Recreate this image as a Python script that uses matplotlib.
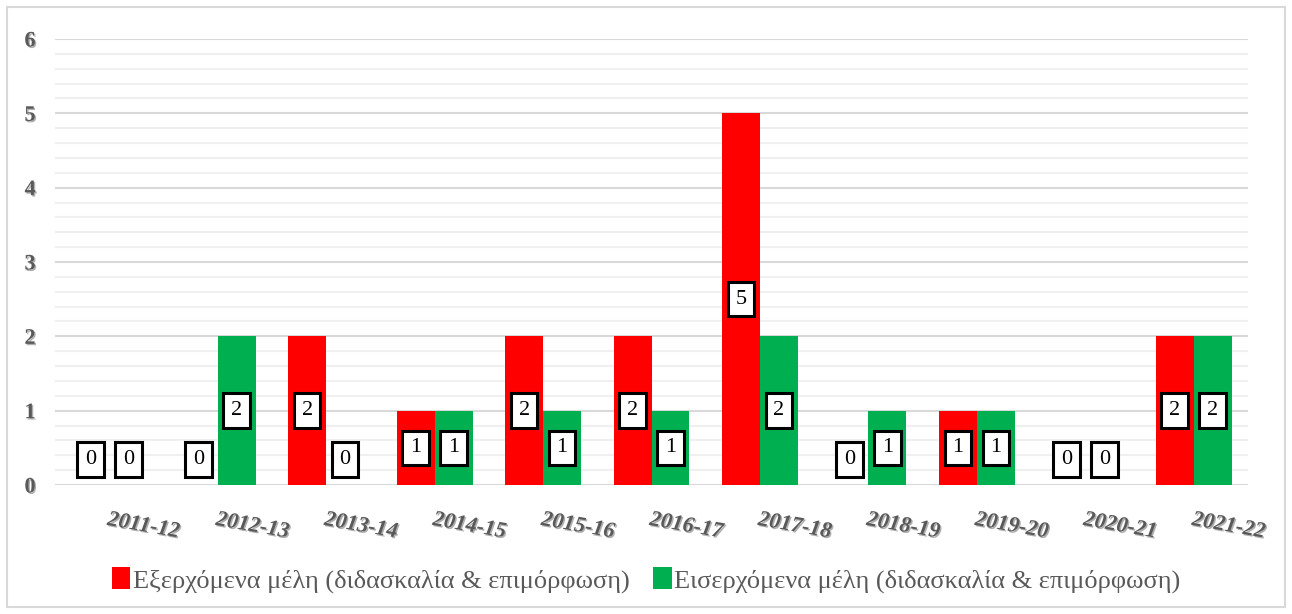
import numpy as np
import matplotlib.pyplot as plt
import matplotlib.patheffects as pe
from matplotlib.patches import FancyBboxPatch

# data
years = ['2011-12', '2012-13', '2013-14', '2014-15', '2015-16', '2016-17',
         '2017-18', '2018-19', '2019-20', '2020-21', '2021-22']
outgoing = [0, 0, 2, 1, 2, 2, 5, 0, 1, 0, 2]
incoming = [0, 2, 0, 1, 1, 1, 2, 1, 1, 0, 2]
labels = ['Εξερχόμενα μέλη (διδασκαλία & επιμόρφωση)',
          'Εισερχόμενα μέλη (διδασκαλία & επιμόρφωση)']

red = '#FF0000'
green = '#00B050'
grey = '#595959'
serif = ['Liberation Serif', 'DejaVu Serif']

fig = plt.figure(figsize=(12.92, 6.14), dpi=100)
ax = fig.add_axes([55 / 1292, 1 - 485 / 614, 1193 / 1292, 446 / 614])

x = np.arange(len(years))
w = 0.35
b1 = ax.bar(x - w / 2, outgoing, w, color=red, label=labels[0], zorder=3)
b2 = ax.bar(x + w / 2, incoming, w, color=green, label=labels[1], zorder=3)

# value labels in white boxes (zero values sit a bit above the axis)
for bars, vals in ((b1, outgoing), (b2, incoming)):
    for rect, v in zip(bars, vals):
        cx = rect.get_x() + rect.get_width() / 2
        y = max(v / 2, 0.34)
        ax.text(cx, y, str(v), ha='center', va='center', fontsize=16,
                family=serif, color='black', zorder=5,
                bbox=dict(boxstyle='square,pad=0.35', fc='white', ec='black', lw=2.2))

ax.set_xlim(-0.5, len(years) - 0.5)
ax.set_ylim(0, 6)
ax.set_yticks(range(0, 7))
ax.set_yticks(np.arange(0, 6.01, 0.2), minor=True)
ax.grid(axis='y', which='major', color='#D9D9D9', lw=1.5, zorder=0)
ax.grid(axis='y', which='minor', color='#F0F0F0', lw=1.5, zorder=0)
for s in ax.spines.values():
    s.set_visible(False)
ax.tick_params(axis='both', which='both', length=0)

shadow = [pe.withSimplePatchShadow(offset=(1, -1), alpha=0.35)]
ax.set_yticklabels([str(i) for i in range(0, 7)], fontsize=16, fontweight='bold',
                   family=serif, color=grey)
ax.tick_params(axis='y', pad=14)
for t in ax.get_yticklabels():
    t.set_path_effects(shadow)

ax.set_xticks(x)
ax.set_xticklabels(years, fontsize=16, fontweight='bold', fontstyle='italic',
                   family=serif, color=grey, rotation=-10, ha='left',
                   rotation_mode='anchor')
ax.tick_params(axis='x', pad=18)
for t in ax.get_xticklabels():
    t.set_path_effects(shadow)

leg = fig.legend(loc='center', bbox_to_anchor=(0.5, 1 - 580 / 614), ncol=2,
                 frameon=False, prop={'family': serif, 'size': 19},
                 handlelength=0.7, handleheight=0.85, handletextpad=0.1,
                 columnspacing=0.9)
for t in leg.get_texts():
    t.set_color(grey)

# outer frame
fig.patches.append(FancyBboxPatch((7 / 1292, 7 / 614), 1278 / 1292, 600 / 614,
                                  boxstyle='square,pad=0', transform=fig.transFigure,
                                  fc='none', ec='#D9D9D9', lw=1.5))

fig.savefig('out.png', dpi=100)
